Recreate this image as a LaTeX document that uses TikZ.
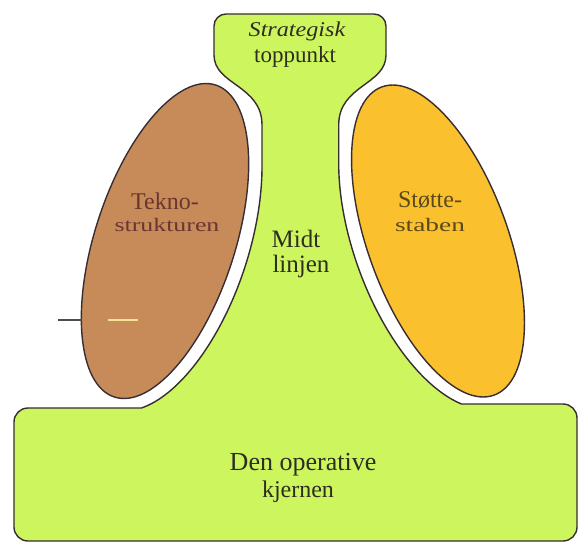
\documentclass[tikz,border=0pt]{standalone}
\usepackage{fontspec}
\setmainfont{Liberation Serif}
\definecolor{greenfill}{RGB}{204,245,94}
\definecolor{brownfill}{RGB}{199,139,90}
\definecolor{orangefill}{RGB}{251,192,45}
\definecolor{outline}{RGB}{55,45,50}
\definecolor{txtdark}{RGB}{45,45,34}
\definecolor{txtbrown}{RGB}{107,53,48}
\definecolor{txtorange}{RGB}{90,74,26}
\definecolor{paleline}{RGB}{248,226,150}
\begin{document}
\begin{tikzpicture}[x=1bp,y=1bp,
  outl/.style={draw=outline, line width=1.4bp},
  lbl/.style={anchor=base, inner sep=0pt, text=txtdark},
  big/.style={font=\fontsize{24bp}{28bp}\selectfont},
]
\useasboundingbox (0,0) rectangle (581,-544);
% green body: apex, middle line and operating core in one outline
\path[outl, fill=greenfill]
  (141.5,-408) .. controls (169.0,-398.5) and (198.2,-367.2) .. (221.3,-323.3)
  .. controls (246.9,-274.7) and (262,-216.3) .. (262,-166.4)
  -- (262,-125) .. controls (262,-85) and (214,-85) .. (214,-55)
  -- (214,-26) arc[start angle=180, end angle=90, radius=12]
  -- (374,-14) arc[start angle=90, end angle=0, radius=12]
  -- (386,-55) .. controls (386,-85) and (338.7,-85) .. (338.7,-125)
  -- (338.7,-163.5) .. controls (338.7,-214.2) and (355.9,-275.0) .. (384.4,-324.6)
  .. controls (407.2,-364.4) and (435.1,-393.0) .. (461.4,-404)
  -- (563,-404) arc[start angle=90, end angle=0, radius=14]
  -- (577,-527) arc[start angle=0, end angle=-90, radius=14]
  -- (28,-541) arc[start angle=270, end angle=180, radius=14]
  -- (14,-422) arc[start angle=180, end angle=90, radius=14]
  -- cycle;
% technostructure and support staff
\draw[outl, fill=brownfill] (165,-241) ellipse [x radius=70, y radius=164, rotate=-18];
\draw[outl, fill=orangefill] (438,-241) ellipse [x radius=70, y radius=164, rotate=20];
% small marks
\draw[line width=1.3bp, draw=gray!60!black] (58,-320) -- (82,-320);
\draw[line width=2.4bp, draw=paleline] (108,-320) -- (138,-320);
% labels
\node[lbl, xscale=1.15, font=\fontsize{21bp}{24bp}\selectfont\itshape] (strat) at (297,-37) {Strategisk};
\node[lbl, font=\fontsize{23bp}{26bp}\selectfont] (topp) at (295,-63) {toppunkt};
\node[lbl, big, text=txtbrown] (tekno) at (165,-210) {Tekno-};
\node[lbl, xscale=1.36, font=\fontsize{19bp}{22bp}\selectfont, text=txtbrown] (strukt) at (167,-232) {strukturen};
\node[lbl, big, text=txtorange] (stotte) at (430,-208) {Støtte-};
\node[lbl, xscale=1.44, font=\fontsize{19bp}{22bp}\selectfont, text=txtorange] (staben) at (430,-232) {staben};
\node[lbl, font=\fontsize{25bp}{28bp}\selectfont] (midt) at (296,-247) {Midt};
\node[lbl, font=\fontsize{25bp}{28bp}\selectfont] (linjen) at (301,-272) {linjen};
\node[lbl, font=\fontsize{26bp}{28bp}\selectfont] (den) at (303,-470) {Den operative};
\node[lbl, big] (kjernen) at (298,-497) {kjernen};
\end{tikzpicture}
\end{document}
